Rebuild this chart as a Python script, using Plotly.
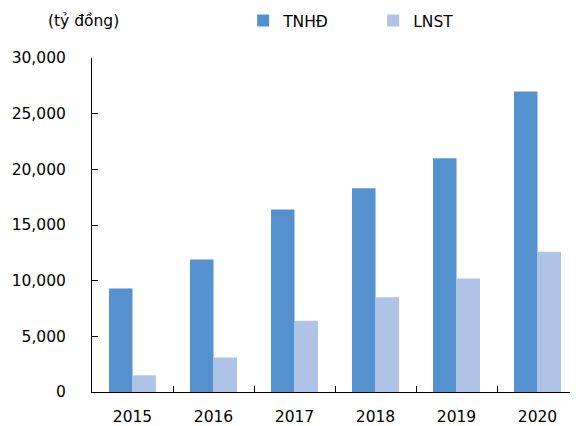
import plotly.graph_objects as go

years = ["2015", "2016", "2017", "2018", "2019", "2020"]
tnhd = [9300, 11900, 16400, 18300, 21000, 27000]
lnst = [1500, 3100, 6400, 8500, 10200, 12600]
y_ticks = [0, 5000, 10000, 15000, 20000, 25000, 30000]

FONT = "DejaVu Sans"
FS = 15.5
fig = go.Figure()
fig.add_trace(go.Bar(x=years, y=tnhd, name="TNHĐ", marker=dict(color="#5691CF", line=dict(width=0))))
fig.add_trace(go.Bar(x=years, y=lnst, name="LNST", marker=dict(color="#AEC3E6", line=dict(width=0))))

# page body has an 8px margin, so the figure is 8px smaller than the window
fig.update_layout(
    width=570, height=418,
    margin=dict(l=84, r=0, t=50, b=34),
    paper_bgcolor="white", plot_bgcolor="white",
    barmode="group", bargap=0.42, bargroupgap=0,
    font=dict(family=FONT, size=FS, color="black"),
    showlegend=True,
    legend=dict(orientation="h", x=0.311, xanchor="left", yref="container", y=0.969,
                yanchor="middle",
                font=dict(family=FONT, size=FS), entrywidth=85, entrywidthmode="pixels",
                itemwidth=30, bgcolor="rgba(0,0,0,0)"),
    annotations=[dict(text="(tỷ đồng)", xref="paper", yref="paper", x=-0.095, xanchor="left",
                      y=1.111, yanchor="middle", showarrow=False, font=dict(family=FONT, size=FS))],
)
fig.update_xaxes(type="category", showline=True, linecolor="black", linewidth=1,
                 ticks="inside", ticklen=6, tickcolor="black", tickson="boundaries",
                 showgrid=False, tickfont=dict(size=FS), ticklabelstandoff=10)
fig.update_yaxes(range=[0, 30000], tickvals=y_ticks, tickformat=",", showline=True,
                 linecolor="black", linewidth=1, ticks="inside", ticklen=6, tickcolor="black",
                 showgrid=False, zeroline=False, tickfont=dict(size=FS), ticklabelstandoff=22)

fig.write_html("out.html")
